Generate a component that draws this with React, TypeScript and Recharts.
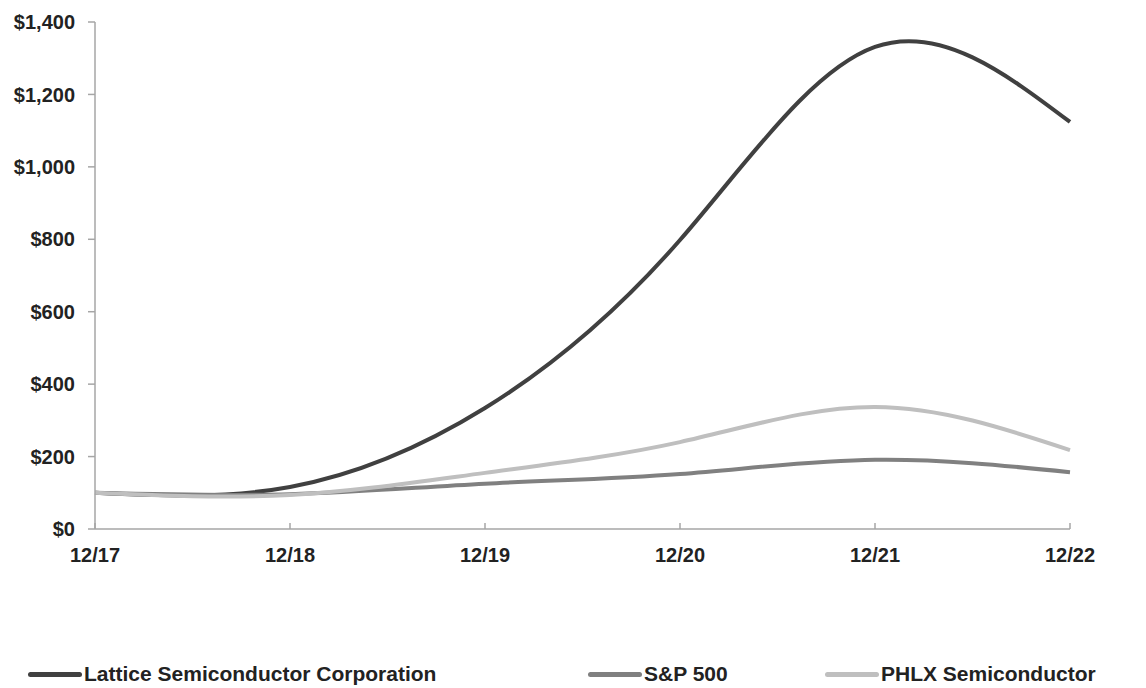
import { LineChart, Line, XAxis, YAxis } from 'recharts'

const periods = ['12/17', '12/18', '12/19', '12/20', '12/21', '12/22']
const lattice = [100, 116, 334, 798, 1331, 1124]
const sp500 = [100, 96, 125, 152, 191, 157]
const phlx = [100, 94, 155, 240, 337, 218]
const yTicks = [0, 200, 400, 600, 800, 1000, 1200, 1400]

const series = [
  { key: 'lattice', name: 'Lattice Semiconductor Corporation', color: '#404040' },
  { key: 'sp500', name: 'S&P 500', color: '#808080' },
  { key: 'phlx', name: 'PHLX Semiconductor', color: '#bfbfbf' },
]

const data = periods.map((p, i) => ({
  period: p,
  lattice: lattice[i],
  sp500: sp500[i],
  phlx: phlx[i],
}))

const axisColor = '#a6a6a6'
const font = 'Liberation Sans, Arial, sans-serif'

const XTick = ({ x, y, payload }) => (
  <g>
    <line x1={x} y1={y} x2={x} y2={y - 6} stroke={axisColor} strokeWidth={1.5} />
    <text x={x} y={y + 33} textAnchor="middle" fill="#222" fontSize={20} fontWeight="bold" fontFamily={font}>
      {payload.value}
    </text>
  </g>
)

const fmt = (v) => '$' + v.toLocaleString('en-US')

// legend line start positions
const legendPos = [28, 588, 825]

export default function App() {
  return (
    <div style={{ position: 'absolute', left: 0, top: 0, width: 1146, height: 688, background: '#fff' }}>
      <LineChart
        width={1146}
        height={688}
        data={data}
        margin={{ top: 22, right: 76, left: 0, bottom: 129 }}
      >
        <XAxis
          dataKey="period"
          axisLine={{ stroke: axisColor, strokeWidth: 1.5 }}
          tickLine={false}
          tickSize={0}
          tickMargin={0}
          tick={<XTick />}
          interval={0}
          height={30}
        />
        <YAxis
          domain={[0, 1400]}
          ticks={yTicks}
          tickFormatter={fmt}
          width={95}
          axisLine={{ stroke: axisColor, strokeWidth: 1.5 }}
          tickLine={{ stroke: axisColor, strokeWidth: 1.5 }}
          tickSize={7}
          tickMargin={13}
          tick={{ fill: '#222', fontSize: 20, fontWeight: 'bold', fontFamily: font }}
        />
        {series.map((s) => (
          <Line
            key={s.key}
            type="natural"
            dataKey={s.key}
            name={s.name}
            stroke={s.color}
            strokeWidth={4}
            dot={false}
            isAnimationActive={false}
          />
        ))}
      </LineChart>
      {series.map((s, i) => (
        <div
          key={s.key}
          style={{
            position: 'absolute',
            left: legendPos[i],
            top: 662,
            display: 'flex',
            alignItems: 'center',
            fontFamily: font,
            fontWeight: 'bold',
            fontSize: 21,
            color: '#222',
            whiteSpace: 'nowrap',
          }}
        >
          <span style={{ display: 'inline-block', width: 54, height: 5, borderRadius: 3, background: s.color, marginRight: 2 }} />
          {s.name}
        </div>
      ))}
    </div>
  )
}
